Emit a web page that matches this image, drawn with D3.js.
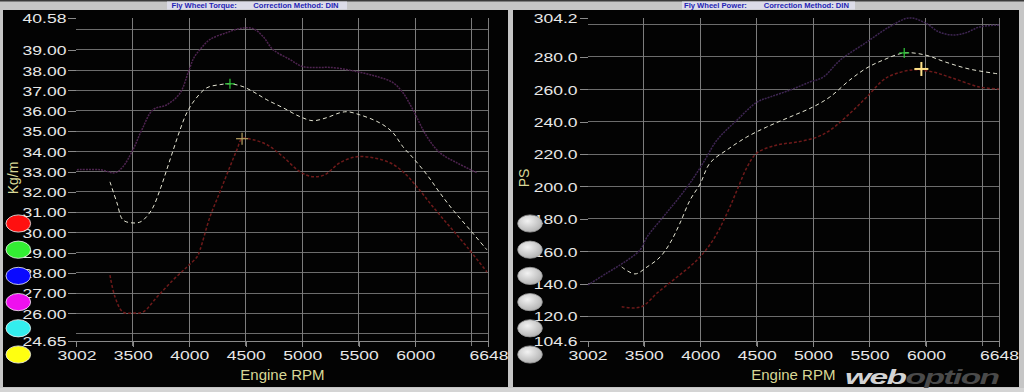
<!DOCTYPE html>
<html><head><meta charset="utf-8">
<script src="https://cdn.jsdelivr.net/npm/d3@7"></script>
<style>
html,body{margin:0;padding:0;background:#c4c4c4;overflow:hidden}
svg{display:block}
</style></head><body>
<svg id="c" width="1024" height="392"></svg>
<script>
// ---------- DATA ----------
const xTickLabels = [3002, 3500, 4000, 4500, 5000, 5500, 6000, 6648];
const xGridValues = [3500, 4000, 4500, 5000, 5500, 6000, 6500, 6648];

const torqueTickLabels = [24.65, 26, 27, 28, 29, 30, 31, 32, 33, 34, 35, 36, 37, 38, 39, 40.58];
const torqueGridValues = [25, 26, 27, 28, 29, 30, 31, 32, 33, 34, 35, 36, 37, 38, 39, 40];
const powerTickLabels = [104.6, 120, 140, 160, 180, 200, 220, 240, 260, 280, 304.2];
const powerGridValues = [120, 140, 160, 180, 200, 220, 240, 260, 280, 300];

const torqueTopRpm = [3007, 3211, 3344, 3414, 3503, 3582, 3680, 3804, 3919, 3991, 4040, 4096, 4184, 4335, 4448, 4564, 4653, 4742, 4892, 5006, 5272, 5484, 5661, 5803, 5892, 5980, 6104, 6218, 6369, 6546];
const torqueTop    = [33.09, 33.09, 32.94, 33.24, 34.08, 35.07, 36.05, 36.30, 36.87, 37.88, 38.60, 39.02, 39.52, 39.86, 40.06, 40.06, 39.67, 39.02, 38.53, 38.18, 38.13, 37.93, 37.69, 37.39, 36.89, 36.05, 34.72, 33.93, 33.43, 32.94];

const torqueMidRpm = [3299, 3361, 3414, 3503, 3575, 3668, 3742, 3801, 3860, 3920, 3978, 4052, 4155, 4274, 4361, 4476, 4582, 4688, 4830, 4980, 5094, 5218, 5333, 5404, 5510, 5627, 5715, 5803, 5892, 5980, 6104, 6218, 6333, 6485, 6635];
const torqueMid    = [32.49, 31.45, 30.61, 30.46, 30.53, 31.11, 32.10, 33.08, 34.08, 35.07, 35.89, 36.55, 37.13, 37.29, 37.33, 37.19, 36.89, 36.54, 36.15, 35.71, 35.51, 35.66, 35.90, 35.95, 35.80, 35.56, 35.31, 34.92, 34.22, 33.68, 32.84, 31.95, 31.11, 30.12, 29.13];

const torqueLowRpm = [3299, 3344, 3414, 3503, 3591, 3715, 3857, 3981, 4069, 4096, 4184, 4273, 4361, 4423, 4468, 4564, 4689, 4830, 4980, 5094, 5200, 5333, 5484, 5626, 5777, 5892, 6016, 6157, 6307, 6458, 6635];
const torqueLow    = [27.88, 26.80, 26.06, 26.01, 26.06, 26.80, 27.64, 28.29, 28.78, 29.13, 30.76, 32.0, 33.24, 34.08, 34.62, 34.57, 34.32, 33.73, 32.99, 32.74, 32.84, 33.43, 33.73, 33.68, 33.43, 32.99, 32.24, 31.26, 30.27, 29.28, 28.04];

const powerTopRpm = [3006, 3174, 3316, 3467, 3529, 3671, 3795, 3910, 4026, 4150, 4327, 4502, 4620, 4797, 4974, 5090, 5241, 5463, 5675, 5853, 5995, 6117, 6235, 6350, 6474, 6648];
const powerTop    = [139.2, 146.6, 152.7, 160.8, 168.8, 181.1, 191.6, 202.1, 214.5, 228.7, 241.0, 252.0, 255.2, 259.5, 264.5, 267.5, 278.0, 288.5, 298.4, 304.0, 300.9, 295.3, 293.5, 294.7, 298.4, 299.6];

const powerMidRpm = [3304, 3422, 3529, 3644, 3733, 3821, 3910, 3999, 4087, 4236, 4413, 4590, 4796, 4998, 5149, 5326, 5476, 5622, 5808, 5995, 6172, 6382, 6648];
const powerMid    = [150.3, 146.0, 150.3, 156.4, 165.1, 177.4, 191.6, 201.5, 214.5, 222.5, 230.5, 236.7, 242.9, 249.0, 255.2, 265.7, 273.1, 278.0, 282.4, 281.1, 276.8, 272.5, 269.4];

const powerLowRpm = [3304, 3405, 3493, 3618, 3795, 3972, 4114, 4239, 4327, 4416, 4502, 4682, 4859, 5037, 5152, 5330, 5476, 5622, 5701, 5879, 6056, 6235, 6474, 6648];
const powerLow    = [125.8, 125.0, 126.2, 134.2, 144.1, 154.6, 166.9, 183.6, 197.8, 212.0, 220.6, 225.6, 227.4, 230.5, 234.8, 245.3, 255.2, 265.7, 268.8, 271.9, 270.7, 266.9, 261.4, 260.1];

const torqueMarkers = [{rpm: 4361, v: 37.33, kind: "green"}, {rpm: 4468, v: 34.62, kind: "yellowDim"}];
const powerMarkers  = [{rpm: 5808, v: 282.4, kind: "green"}, {rpm: 5960, v: 272.5, kind: "yellow"}];

const legendColorsLeft  = ["#ff1010", "#33ee33", "#0a0aff", "#ee10ee", "#33eeee", "#ffff10"];
const legendColorsRight = ["g", "g", "g", "g", "g", "g"];

// ---------- DRAW ----------
const svg = d3.select("#c");
const defs = svg.append("defs");
const rg = defs.append("radialGradient").attr("id", "gl").attr("cx", "40%").attr("cy", "35%").attr("r", "70%");
rg.append("stop").attr("offset", "0%").attr("stop-color", "#f2f2f2");
rg.append("stop").attr("offset", "100%").attr("stop-color", "#b0b0b0");

svg.append("rect").attr("width", 1024).attr("height", 392).attr("fill", "#c6c6c6");
svg.append("rect").attr("width", 1024).attr("height", 1.5).attr("fill", "#3a3a3a");
svg.append("rect").attr("x", 0).attr("y", 388).attr("width", 1024).attr("height", 4).attr("fill", "#d4d4d4");

const FONT = "'Liberation Sans', Arial, sans-serif";
const SX = 1.3;

function drawPanel(p) {
  const g = svg.append("g");
  g.append("rect").attr("x", p.bgX).attr("y", 10).attr("width", p.bgW).attr("height", 377).attr("fill", "#030303");
  // title strip
  g.append("rect").attr("x", p.boxX).attr("y", 1.5).attr("width", p.boxW).attr("height", 8)
    .attr("fill", "#dcdce8");
  g.append("text").attr("x", p.t1x).attr("y", 8.3).text(p.t1)
    .attr("font-family", FONT).attr("font-size", 7.6).attr("font-weight", "bold").attr("fill", "#2424b4");
  g.append("text").attr("x", p.t2x).attr("y", 8.3).text("Correction Method: DIN")
    .attr("font-family", FONT).attr("font-size", 7.6).attr("font-weight", "bold").attr("fill", "#2424b4");

  const x = d3.scaleLinear().domain([3002, 6648]).range(p.xRange);
  const y = d3.scaleLinear().domain(p.yDomain).range(p.yRange);

  // grid
  const grid = g.append("g").attr("shape-rendering", "crispEdges");
  grid.selectAll("line.h").data(p.yGrid).join("line")
    .attr("x1", p.xRange[0]).attr("x2", p.xRange[1])
    .attr("y1", d => y(d)).attr("y2", d => y(d))
    .attr("stroke", "#6c6c6c").attr("stroke-width", 1);
  grid.selectAll("line.v").data(xGridValues).join("line")
    .attr("x1", d => x(d)).attr("x2", d => x(d))
    .attr("y1", p.yRange[1]).attr("y2", p.yRange[0] + 5)
    .attr("stroke", "#7c7c7c").attr("stroke-width", 1);

  // y axis
  const ya = g.append("g").attr("transform", `translate(${p.xRange[0]},0)`)
    .call(d3.axisLeft(y).tickValues(p.yTicks).tickFormat(p.yFmt).tickSize(8).tickSizeOuter(0));
  ya.select(".domain").remove();
  ya.selectAll(".tick line").attr("stroke", "#8a8a8a").attr("shape-rendering", "crispEdges");
  ya.selectAll(".tick text").attr("x", -10 / SX).attr("dy", "0.36em")
    .attr("transform", `scale(${SX},1)`)
    .attr("font-family", FONT).attr("font-size", 13.5).attr("fill", "#e8e8e8");

  // x axis
  const xa = g.append("g").attr("transform", `translate(0,${p.yRange[0]})`)
    .call(d3.axisBottom(x).tickValues(xTickLabels).tickFormat(d3.format("d")).tickSize(6).tickSizeOuter(0));
  xa.select(".domain").attr("stroke", "#8a8a8a").attr("shape-rendering", "crispEdges");
  xa.selectAll(".tick line").attr("stroke", "#8a8a8a").attr("shape-rendering", "crispEdges");
  xa.selectAll(".tick text").attr("x", 0).attr("y", 19).attr("dy", 0)
    .attr("transform", `scale(${SX},1)`)
    .attr("font-family", FONT).attr("font-size", 13.5).attr("fill", "#e8e8e8");

  // axis titles
  g.append("text").attr("x", (p.xRange[0] + p.xRange[1]) / 2).attr("y", 379.5)
    .attr("text-anchor", "middle").text("Engine RPM")
    .attr("font-family", FONT).attr("font-size", 15).attr("fill", "#d8d896");
  g.append("text").attr("transform", `translate(${p.yTitleX},178) rotate(-90)`)
    .attr("text-anchor", "middle").text(p.yTitle)
    .attr("font-family", FONT).attr("font-size", 14).attr("fill", "#d8d896");

  // series
  const line = d3.line().x(d => x(d[0])).y(d => y(d[1])).curve(d3.curveCatmullRom.alpha(0.5));
  p.series.forEach(s => {
    g.append("path").datum(d3.zip(s.rpm, s.val)).attr("d", line)
      .attr("fill", "none").attr("stroke", s.color).attr("stroke-width", s.w)
      .attr("stroke-dasharray", s.dash).attr("stroke-linecap", "butt");
  });

  // markers
  p.markers.forEach(m => {
    const cx = x(m.rpm), cy = y(m.v);
    const st = m.kind === "green" ? {c: "#30c83a", r: 5, w: 1.2}
             : m.kind === "yellow" ? {c: "#ffe38a", r: 7, w: 2}
             : {c: "#b8a060", r: 6, w: 1.2};
    g.append("line").attr("x1", cx - st.r).attr("x2", cx + st.r).attr("y1", cy).attr("y2", cy)
      .attr("stroke", st.c).attr("stroke-width", st.w);
    g.append("line").attr("x1", cx).attr("x2", cx).attr("y1", cy - st.r).attr("y2", cy + st.r)
      .attr("stroke", st.c).attr("stroke-width", st.w);
  });

  // legend ellipses
  const ly = d3.scalePoint().domain(d3.range(p.legend.length)).range([223.5, 354.5]);
  g.selectAll("ellipse.lg").data(p.legend).join("ellipse")
    .attr("cx", p.legendX).attr("cy", (d, i) => ly(i)).attr("rx", 12.3).attr("ry", 8.6)
    .attr("fill", d => d === "g" ? "url(#gl)" : d)
    .attr("stroke", d => d === "g" ? "#9a9a9a" : "#f4f4f4").attr("stroke-width", 0.8);
}

drawPanel({
  bgX: 3, bgW: 505, boxX: 167, boxW: 180, t1: "Fly Wheel Torque:", t1x: 171.5, t2x: 253.3,
  xRange: [76.4, 488.4], yDomain: [24.65, 40.58], yRange: [340.6, 18],
  yTicks: torqueTickLabels, yGrid: torqueGridValues, yFmt: d3.format(".2f"),
  yTitle: "Kg/m", yTitleX: 17.5,
  series: [
    {rpm: torqueTopRpm, val: torqueTop, color: "#4e2450", w: 1.5, dash: "2,1"},
    {rpm: torqueLowRpm, val: torqueLow, color: "#6e1a1a", w: 1.5, dash: "3,2"},
    {rpm: torqueMidRpm, val: torqueMid, color: "#e6e6d4", w: 1.0, dash: "4,3"}
  ],
  markers: torqueMarkers, legend: legendColorsLeft, legendX: 18.3
});

drawPanel({
  bgX: 513, bgW: 506, boxX: 682, boxW: 173, t1: "Fly Wheel Power:", t1x: 684, t2x: 763.7,
  xRange: [587.6, 999], yDomain: [104.6, 304.2], yRange: [341, 17.6],
  yTicks: powerTickLabels, yGrid: powerGridValues, yFmt: d3.format(".1f"),
  yTitle: "PS", yTitleX: 529,
  series: [
    {rpm: powerTopRpm, val: powerTop, color: "#3e2652", w: 1.5, dash: "2,1"},
    {rpm: powerLowRpm, val: powerLow, color: "#6e1a1a", w: 1.5, dash: "3,2"},
    {rpm: powerMidRpm, val: powerMid, color: "#e6e6d4", w: 1.0, dash: "4,3"}
  ],
  markers: powerMarkers, legend: legendColorsRight, legendX: 530
});

// watermark
const wm = svg.append("text").attr("transform", "translate(845,384) scale(1.6,1)")
  .attr("font-family", FONT).attr("font-size", 21).attr("font-weight", "bold")
  .attr("font-style", "italic").attr("letter-spacing", -1);
wm.append("tspan").text("web").attr("fill", "#d4d4d4");
wm.append("tspan").text("option").attr("fill", "#4a4a4a");
</script>
</body></html>
